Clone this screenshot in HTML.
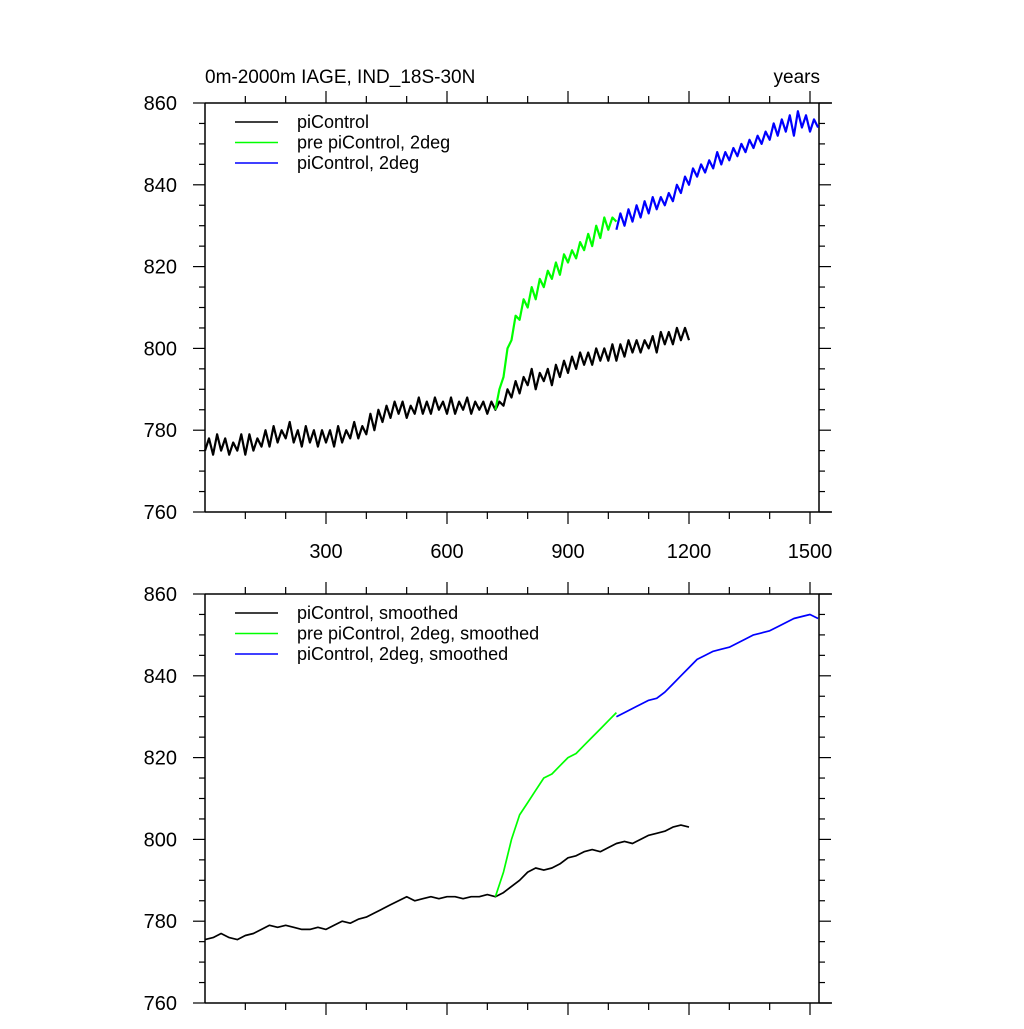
<!DOCTYPE html>
<html><head><meta charset="utf-8"><style>
body{margin:0;background:#fff}
svg text{font-family:"Liberation Sans",sans-serif;fill:#000}
</style></head><body>
<svg id="c" width="1024" height="1024" xmlns="http://www.w3.org/2000/svg"></svg>
<script>
const yTicks=[760,780,800,820,840,860];
const xTickLabels=[300,600,900,1200,1500];
const blackTop=[775,778,774,779,775,778,774,777,775,779,
774,779,775,778,776,780,776,781,777,780,
778,782,777,780,776,781,777,780,776,780,
777,780,776,781,777,780,778,782,778,781,
779,784,780,785,782,786,783,787,784,787,
783,786,784,788,784,787,784,788,785,787,
784,788,784,787,785,788,784,787,785,787,
784,787,785,787,786,790,788,792,789,793,
791,795,790,794,792,795,791,796,793,797,
794,798,795,799,796,799,796,800,797,800,
797,801,797,801,798,802,799,802,799,802,
800,803,799,804,801,804,801,805,802,805,802];
const greenTop=[785,790,793,800,802,808,807,812,810,815,812,817,815,819,817,821,818,823,821,824,822,826,824,828,825,830,827,832,829,832,831];
const blueTop=[829,833,830,834,831,835,832,836,833,837,834,837,835,838,836,840,838,842,840,844,842,845,843,846,844,848,845,848,846,849,847,850,848,851,849,852,850,853,851,855,852,856,853,857,852,858,854,857,853,856,854];
const blackSm=[775.5,776,777,776,775.5,776.5,777,778,779,778.5,
779,778.5,778,778,778.5,778,779,780,779.5,780.5,
781,782,783,784,785,786,785,785.5,786,785.5,
786,786,785.5,786,786,786.5,786,787,788.5,790,
792,793,792.5,793,794,795.5,796,797,797.5,797,
798,799,799.5,799,800,801,801.5,802,803,803.5,803];
const greenSm=[786,792,800,806,809,812,815,816,818,820,821,823,825,827,829,831];
const blueSm=[830,831,832,833,834,834.5,836,838,840,842,844,845,846,846.5,847,848,849,850,850.5,851,852,853,854,854.5,855,854];

const NS='http://www.w3.org/2000/svg';
const svg=document.getElementById('c');
const X0=205,X1=819,XAXEND=832,XMAX=(819-205)/(121/300);
function xs(v){return X0+v*(121/300);}
function mk(t,a,p){const e=document.createElementNS(NS,t);for(const k in a)e.setAttribute(k,a[k]);(p||svg).appendChild(e);return e;}
function panel(top,name,series,legend,labels){
  const bot=top+409;
  const ys=v=>bot-(v-760)*(bot-top)/100;
  const g=mk('g',{});
  
  
  const st={stroke:'#000','stroke-width':1.5};
  const a1=mk('line',Object.assign({x1:X0,x2:XAXEND,y1:top,y2:top},st),g);
  
  const a2=mk('line',Object.assign({x1:X0,x2:XAXEND,y1:bot,y2:bot},st),g);
  
  const a3=mk('line',Object.assign({x1:X0,x2:X0,y1:top,y2:bot},st),g);
  
  const a4=mk('line',Object.assign({x1:X1,x2:X1,y1:top,y2:bot},st),g);
  
  for(let v=760;v<=860;v+=5){
    const maj=v%20===0,L=maj?12:6,y=ys(v);
    mk('line',{x1:X0,x2:X0-L,y1:y,y2:y,stroke:'#000','stroke-width':1.2},g);
    mk('line',{x1:X1,x2:X1+L,y1:y,y2:y,stroke:'#000','stroke-width':1.2},g);
  }
  yTicks.forEach(v=>{const t=mk('text',{x:177,y:ys(v)+7,'font-size':20,'text-anchor':'end'},g);t.textContent=v;
    });
  for(let v=100;v<=1500;v+=100){
    const maj=v%300===0,L=maj?12:7,x=xs(v);
    mk('line',{x1:x,x2:x,y1:bot,y2:bot+L,stroke:'#000','stroke-width':1.2},g);
    mk('line',{x1:x,x2:x,y1:top,y2:top-L,stroke:'#000','stroke-width':1.2},g);
  }
  if(labels){xTickLabels.forEach(v=>{const t=mk('text',{x:xs(v),y:bot+46,'font-size':20,'text-anchor':'middle'},g);t.textContent=v;
    });}
  series.forEach(s=>{
    const pts=s.d.map((v,i)=>xs(s.x0+i*s.step).toFixed(1)+','+ys(v).toFixed(1)).join(' ');
    const p=mk('polyline',{points:pts,fill:'none',stroke:s.c,'stroke-width':s.w,'stroke-linejoin':'round'},g);
    
    
  });
  legend.forEach((l,i)=>{
    const y=top+19+i*20.5;
    const ln=mk('line',{x1:235,x2:278,y1:y,y2:y,stroke:l[1],'stroke-width':1.5},g);
    
    const t=mk('text',{x:297,y:y+6,'font-size':18},g);t.textContent=l[0];
    
  });
}
panel(103,'top-panel',[
 {d:blackTop,x0:0,step:10,c:'#000',w:2.2,n:'picontrol-line'},
 {d:greenTop,x0:720,step:10,c:'#00ff00',w:2.2,n:'pre-picontrol-2deg-line'},
 {d:blueTop,x0:1020,step:10,c:'#0000ff',w:2.2,n:'picontrol-2deg-line'}],
 [['piControl','#000'],['pre piControl, 2deg','#00ff00'],['piControl, 2deg','#0000ff']],true);
panel(594,'bottom-panel',[
 {d:blackSm,x0:0,step:20,c:'#000',w:1.7,n:'picontrol-smoothed-line'},
 {d:greenSm,x0:720,step:20,c:'#00ff00',w:1.7,n:'pre-picontrol-2deg-smoothed-line'},
 {d:blueSm,x0:1020,step:20,c:'#0000ff',w:1.7,n:'picontrol-2deg-smoothed-line'}],
 [['piControl, smoothed','#000'],['pre piControl, 2deg, smoothed','#00ff00'],['piControl, 2deg, smoothed','#0000ff']],false);
const t1=mk('text',{x:205,y:83,'font-size':19});t1.textContent='0m-2000m IAGE, IND_18S-30N';

const t2=mk('text',{x:820,y:83,'font-size':19,'text-anchor':'end'});t2.textContent='years';

</script>
</body></html>
